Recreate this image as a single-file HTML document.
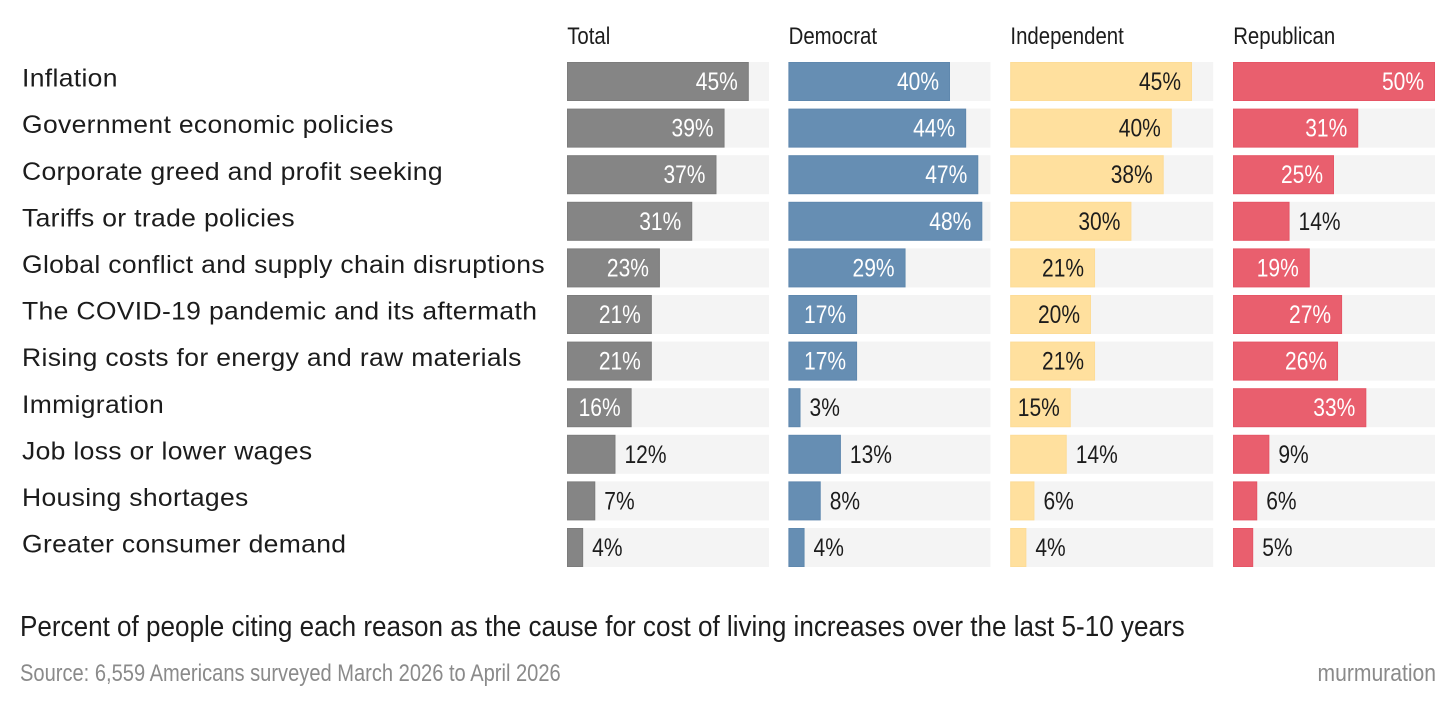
<!DOCTYPE html>
<html lang="en">
<head>
<meta charset="utf-8">
<title>Cost of living causes by party</title>
<style>
html,body{margin:0;padding:0;background:#fff;width:1456px;height:709px;overflow:hidden}
svg{display:block;font-family:"Liberation Sans",sans-serif}
</style>
</head>
<body>
<svg id="chart" xmlns="http://www.w3.org/2000/svg" width="1456" height="709" viewBox="0 0 1456 709">
  <text transform="translate(20,636) scale(0.899,1)" font-size="29" fill="#1c1c1c">Percent of people citing each reason as the cause for cost of living increases over the last 5-10 years</text>
  <text transform="translate(20,681) scale(0.838,1)" font-size="24" fill="#8a8a8a">Source: 6,559 Americans surveyed March 2026 to April 2026</text>
  <text transform="translate(1436,681) scale(0.88,1)" text-anchor="end" font-size="24" fill="#8a8a8a">murmuration</text>
</svg>
<script>
const categories = ["Inflation","Government economic policies","Corporate greed and profit seeking","Tariffs or trade policies","Global conflict and supply chain disruptions","The COVID-19 pandemic and its aftermath","Rising costs for energy and raw materials","Immigration","Job loss or lower wages","Housing shortages","Greater consumer demand"];
const seriesNames = ["Total","Democrat","Independent","Republican"];
const totalValues = [45,39,37,31,23,21,21,16,12,7,4];
const democratValues = [40,44,47,48,29,17,17,3,13,8,4];
const independentValues = [45,40,38,30,21,20,21,15,14,6,4];
const republicanValues = [50,31,25,14,19,27,26,33,9,6,5];
const trackMax = 50;

const seriesValues = [totalValues, democratValues, independentValues, republicanValues];
const fills = ["#858585","#668eb3","#ffe09e","#e95f6e"];
const strokes = ["#7c7c7c","#5f88ae","#fddc97","#e65566"];
const labelInk = ["#fff","#fff","#1c1c1c","#fff"];
const NS = "http://www.w3.org/2000/svg";
const svg = document.getElementById("chart");

const panelX = i => [567, 788.4, 1010.2, 1233][i];
const panelW = 202;
const rowY = i => 62 + i * 46.6;
const rowH = 39;
const xLen = v => v / trackMax * panelW;

function mk(tag, attrs, parent) {
  const el = document.createElementNS(NS, tag);
  for (const k in attrs) el.setAttribute(k, attrs[k]);
  (parent || svg).appendChild(el);
  return el;
}

categories.forEach((name, r) => {
  const t = mk("text", {transform: "translate(22," + (rowY(r) + 24.6) + ") scale(1.06,1)", "font-size": 25, fill: "#1c1c1c", "letter-spacing": "0.32"});
  
  
  t.textContent = name;
});

seriesNames.forEach((name, c) => {
  const h = mk("text", {transform: "translate(" + (panelX(c) + 0.2) + ",44) scale(0.85,1)", "font-size": 24, fill: "#1c1c1c"});
  
  
  h.textContent = name;

  seriesValues[c].forEach((v, r) => {
    const x = panelX(c), y = rowY(r), w = xLen(v);
    const track = mk("rect", {x: x, y: y, width: panelW + (c === 2 ? 1 : 0), height: rowH, fill: "#f4f4f4"});
    
    
    const bar = mk("rect", {x: x + 0.5, y: y + 0.5, width: Math.max(w - 1, 0), height: rowH - 1, fill: fills[c], stroke: strokes[c], "stroke-width": 1});
    
    
    const inside = v >= 15;
    const lx = inside ? x + w - 11 : x + w + 9;
    const lab = mk("text", {
      transform: "translate(" + lx + "," + (y + 28) + ") scale(0.84,1)",
      "text-anchor": inside ? "end" : "start",
      "font-size": 25,
      fill: inside ? labelInk[c] : "#1c1c1c"
    });
    
    
    lab.textContent = v + "%";
  });
});
</script>
</body>
</html>
